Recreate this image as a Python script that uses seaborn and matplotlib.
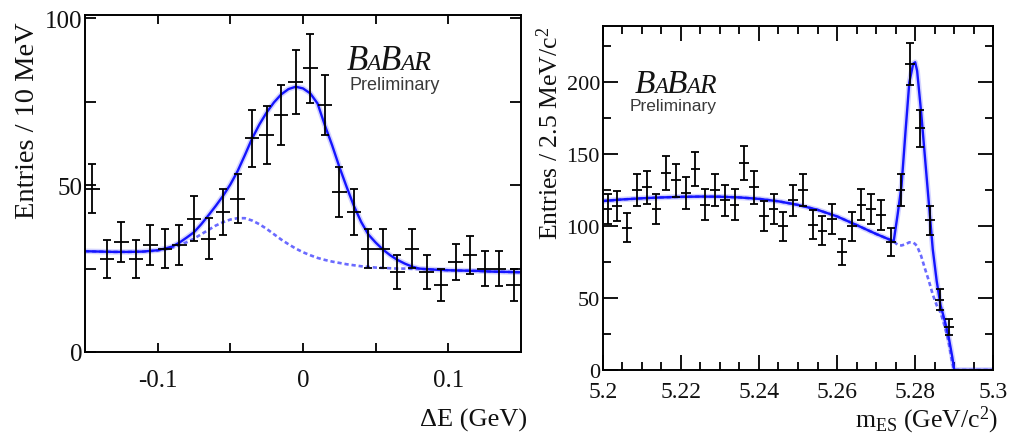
import numpy as np
import pandas as pd
import matplotlib
matplotlib.use("Agg")
import matplotlib.pyplot as plt
import seaborn as sns
from matplotlib.ticker import FixedLocator, FixedFormatter
from matplotlib.transforms import IdentityTransform

sns.set_theme(style="ticks")
plt.rcParams["font.family"] = ["Liberation Serif", "DejaVu Serif"]
plt.rcParams["mathtext.fontset"] = "custom"
plt.rcParams["mathtext.rm"] = "Liberation Serif"
plt.rcParams["mathtext.it"] = "Liberation Serif:italic"

# ---------------- Delta E distribution (10 MeV bins) ----------------
de_centers = [-0.145, -0.135, -0.125, -0.115, -0.105, -0.095, -0.085, -0.075,
              -0.065, -0.055, -0.045, -0.035, -0.025, -0.015, -0.005, 0.005,
              0.015, 0.025, 0.035, 0.045, 0.055, 0.065, 0.075, 0.085, 0.095,
              0.105, 0.115, 0.125, 0.135, 0.145]
de_counts = [49, 28, 33, 28, 32, 31, 32, 40, 34, 42, 46, 64, 65, 71, 81, 85,
             74, 48, 42, 31, 31, 24, 31, 24, 20, 27, 29, 25, 25, 20]
de_errors = [7.4, 5.7, 6.1, 5.7, 6.0, 5.9, 6.0, 6.7, 6.2, 6.9, 7.2, 8.5, 8.6,
             9.0, 9.6, 10.4, 9.1, 7.4, 6.9, 5.9, 5.9, 5.2, 5.9, 5.2, 4.8, 5.5,
             5.7, 5.3, 5.3, 4.8]
de_half_bin = 0.005

# fitted projection: total and background-only
de_fit_x = [-0.150, -0.140, -0.130, -0.120, -0.110, -0.100, -0.095, -0.090,
            -0.085, -0.080, -0.075, -0.070, -0.065, -0.060, -0.055, -0.050,
            -0.045, -0.040, -0.035, -0.030, -0.025, -0.020, -0.015, -0.010,
            -0.005, 0.000, 0.005, 0.010, 0.015, 0.020, 0.025, 0.030, 0.035,
            0.040, 0.045, 0.050, 0.055, 0.060, 0.065, 0.070, 0.075, 0.080,
            0.090, 0.100, 0.110, 0.120, 0.130, 0.140, 0.150]
de_fit_total = [30.2, 30.1, 30.0, 30.0, 30.1, 30.5, 31.0, 31.6,
                32.8, 34.3, 35.9, 38.3, 41.0, 43.8, 46.8, 50.2,
                54.2, 59.0, 64.0, 68.2, 71.8, 74.8, 77.2, 78.8,
                79.5, 79.0, 77.5, 74.5, 68.0, 62.0, 55.5, 49.5, 43.8,
                39.0, 35.2, 32.8, 30.7, 29.0, 27.6, 26.5, 25.6, 25.0,
                24.7, 24.5, 24.4, 24.3, 24.1, 24.0, 23.9]
de_fit_bkg = [30.2, 30.1, 30.0, 30.0, 30.1, 30.4, 30.8, 31.3,
              32.0, 32.9, 34.0, 35.3, 36.6, 37.9, 38.9, 39.7,
              40.1, 40.1, 39.4, 38.3, 36.9, 35.3, 33.7, 32.3,
              31.0, 29.9, 29.0, 28.2, 27.6, 27.1, 26.7, 26.3, 26.0,
              25.7, 25.5, 25.3, 25.2, 25.1, 25.0, 25.0, 24.9, 24.9,
              24.7, 24.5, 24.4, 24.3, 24.1, 24.0, 23.9]

# ---------------- mES distribution (2.5 MeV/c^2 bins) ----------------
mes_centers = [5.20125, 5.20375, 5.20625, 5.20875, 5.21125, 5.21375, 5.21625,
               5.21875, 5.22125, 5.22375, 5.22625, 5.22875, 5.23125, 5.23375,
               5.23625, 5.23875, 5.24125, 5.24375, 5.24625, 5.24875, 5.25125,
               5.25375, 5.25625, 5.25875, 5.26125, 5.26375, 5.26625, 5.26875,
               5.27125, 5.27375, 5.27625, 5.27875, 5.28125, 5.28375, 5.28625,
               5.28875]
mes_counts = [112, 114, 99, 125, 127, 112, 137, 132, 123, 140, 115, 125, 118,
              115, 144, 127, 107, 112, 100, 118, 125, 101, 97, 105, 82, 100,
              115, 112, 108, 89, 125, 213, 168, 104, 49, 30]
mes_errors = [10.6, 10.7, 9.9, 11.2, 11.3, 10.6, 11.7, 11.5, 11.1, 11.8, 10.7,
              11.2, 10.9, 10.7, 12.0, 11.3, 10.3, 10.6, 10.0, 10.9, 11.2, 10.0,
              9.8, 10.2, 9.1, 10.0, 10.7, 10.6, 10.4, 9.4, 11.2, 14.6, 13.0,
              10.2, 7.0, 5.5]
mes_half_bin = 0.00125

mes_fit_x = [5.2000, 5.2050, 5.2100, 5.2150, 5.2200, 5.2250, 5.2300, 5.2350,
             5.2400, 5.2450, 5.2500, 5.2550, 5.2600, 5.2650, 5.2700, 5.2745,
             5.2755, 5.2765, 5.2775, 5.2785, 5.2795, 5.2800, 5.2805, 5.2815,
             5.2825, 5.2835, 5.2845, 5.2855, 5.2865, 5.2875, 5.2885, 5.2895,
             5.2900, 5.3000]
mes_fit_total = [117.5, 118.6, 119.4, 120.0, 120.4, 120.6, 120.5, 120.0,
                 119.0, 117.3, 114.8, 111.4, 106.8, 100.8, 94.6, 89.5,
                 108.0, 128.0, 165.0, 200.0, 213.0, 214.0, 208.0, 180.0,
                 148.0, 116.0, 84.0, 62.0, 45.0, 35.0, 24.0, 9.0,
                 0.0, 0.0]
mes_fit_bkg = [117.5, 118.6, 119.4, 120.0, 120.4, 120.6, 120.5, 120.0,
               119.0, 117.3, 114.8, 111.4, 106.8, 100.8, 94.6, 89.5,
               87.0, 86.6, 87.4, 88.8, 88.6, 87.6, 86.0, 79.5,
               70.5, 62.0, 52.5, 45.0, 40.0, 31.0, 20.5, 5.0,
               0.0, 0.0]

W, H = 1014, 435
fig = plt.figure(figsize=(W / 100, H / 100), dpi=100)
fig.patch.set_facecolor("white")

ax1 = fig.add_axes([85 / W, (H - 353) / H, 436 / W, 337 / H])
ax2 = fig.add_axes([602.7 / W, (H - 371) / H, 390.6 / W, 343.7 / H])

LINE_BLUE = "#1414ff"
DASH_BLUE = "#5050ff"


def draw_panel(ax, cx, counts, errs, half_bin, fx, ftot, fbkg):
    curves = pd.DataFrame({"x": fx, "total": ftot, "bkg": fbkg})
    # soft halo under the fit curves
    sns.lineplot(data=curves, x="x", y="total", ax=ax, color=LINE_BLUE,
                 lw=4.0, alpha=0.18, estimator=None, sort=False, legend=False)
    sns.lineplot(data=curves, x="x", y="bkg", ax=ax, color=DASH_BLUE,
                 lw=1.9, linestyle=(0, (1.6, 1.1)), alpha=0.85,
                 estimator=None, sort=False, legend=False)
    sns.lineplot(data=curves, x="x", y="total", ax=ax, color=LINE_BLUE,
                 lw=1.7, estimator=None, sort=False, legend=False)
    ax.errorbar(cx, counts, xerr=half_bin, fmt="none", ecolor="black",
                elinewidth=1.3, capsize=0, zorder=5)
    ax.errorbar(cx, counts, yerr=errs, fmt="none", ecolor="black",
                elinewidth=1.3, capsize=3.0, capthick=1.3, zorder=5)
    for s in ax.spines.values():
        s.set_visible(True)
        s.set_linewidth(1.4)
        s.set_color("black")
    ax.set_facecolor("white")
    ax.set_xlabel("")
    ax.set_ylabel("")


draw_panel(ax1, de_centers, de_counts, de_errors, de_half_bin,
           de_fit_x, de_fit_total, de_fit_bkg)
draw_panel(ax2, mes_centers, mes_counts, mes_errors, mes_half_bin,
           mes_fit_x, mes_fit_total, mes_fit_bkg)

# left panel axes
ax1.set_xlim(-0.15, 0.15)
ax1.set_ylim(0, 101)
ax1.xaxis.set_major_locator(FixedLocator([-0.1, 0.0, 0.1]))
ax1.xaxis.set_major_formatter(FixedFormatter(["-0.1", "0", "0.1"]))
ax1.xaxis.set_minor_locator(FixedLocator([-0.05, 0.05]))
ax1.yaxis.set_major_locator(FixedLocator([0, 50, 100]))
ax1.yaxis.set_major_formatter(FixedFormatter(["0", "50", "100"]))
ax1.yaxis.set_minor_locator(FixedLocator([25, 75]))
ax1.tick_params(which="both", direction="in", top=True, right=True,
                width=1.3, color="black")
ax1.tick_params(axis="x", which="both", length=6.5, pad=12, labelsize=18)
ax1.tick_params(axis="y", which="both", length=8, pad=2, labelsize=18)

# right panel axes
ax2.set_xlim(5.2, 5.3)
ax2.set_ylim(0, 239)
mes_ticks = [5.20, 5.22, 5.24, 5.26, 5.28, 5.30]
mes_tick_labels = ["5.2", "5.22", "5.24", "5.26", "5.28", "5.3"]
ax2.xaxis.set_major_locator(FixedLocator(mes_ticks))
ax2.xaxis.set_major_formatter(FixedFormatter(mes_tick_labels))
ax2.xaxis.set_minor_locator(FixedLocator(
    [5.2 + 0.005 * k for k in range(21) if k % 4 != 0]))
ax2.yaxis.set_major_locator(FixedLocator([0, 50, 100, 150, 200]))
ax2.yaxis.set_major_formatter(FixedFormatter(["0", "50", "100", "150", "200"]))
ax2.yaxis.set_minor_locator(FixedLocator([25, 75, 125, 175, 225]))
ax2.tick_params(which="both", direction="in", top=True, right=True,
                width=1.3, color="black")
ax2.tick_params(which="major", length=11)
ax2.tick_params(which="minor", length=5.5)
ax2.tick_params(axis="x", which="both", pad=8, labelsize=17)
ax2.tick_params(axis="y", which="both", pad=2, labelsize=16)

for ax in (ax1, ax2):
    for lab in ax.get_xticklabels() + ax.get_yticklabels():
        lab.set_color("#111111")

# axis titles
fig.text(28 / W, (H - 22) / H, "Entries / 10 MeV", rotation=90, ha="center",
         va="top", fontsize=20.5, color="#111111")
fig.text(550 / W, (H - 27) / H, "Entries / 2.5 MeV/c$^{2}$", rotation=90,
         ha="center", va="top", fontsize=18.5, color="#111111")
fig.text(527 / W, (H - 409) / H, "ΔE (GeV)", ha="right", va="top",
         fontsize=19, color="#111111")
fig.text(998 / W, (H - 405) / H, r"m$_{\mathrm{ES}}$ (GeV/c$^{2}$)",
         ha="right", va="top", fontsize=18.5, color="#111111")


def babar_logo(x_px, base_px, pre_base_px, pre_right_px, big, small_a,
               small_r, pre_size):
    renderer = fig.canvas.get_renderer()
    x = x_px
    y = H - base_px
    for ch, size in [("B", big), ("A", small_a), ("B", big), ("A", small_a),
                     ("R", small_r)]:
        t = fig.text(x, y, ch, transform=IdentityTransform(), fontsize=size,
                     fontstyle="italic", family="Liberation Serif",
                     ha="left", va="baseline", color="#141414")
        bb = t.get_window_extent(renderer)
        x = bb.x1 - 0.06 * size
    fig.text(pre_right_px, H - pre_base_px, "Preliminary",
             transform=IdentityTransform(), fontsize=pre_size,
             family="Liberation Sans", ha="right", va="baseline",
             color="#3a3a3a")


babar_logo(347, 70, 90, 440, 25, 17, 20, 13)
babar_logo(635, 93, 111, 717, 24, 16.5, 19.5, 12.5)

fig.savefig("out.png", dpi=100, facecolor="white")
